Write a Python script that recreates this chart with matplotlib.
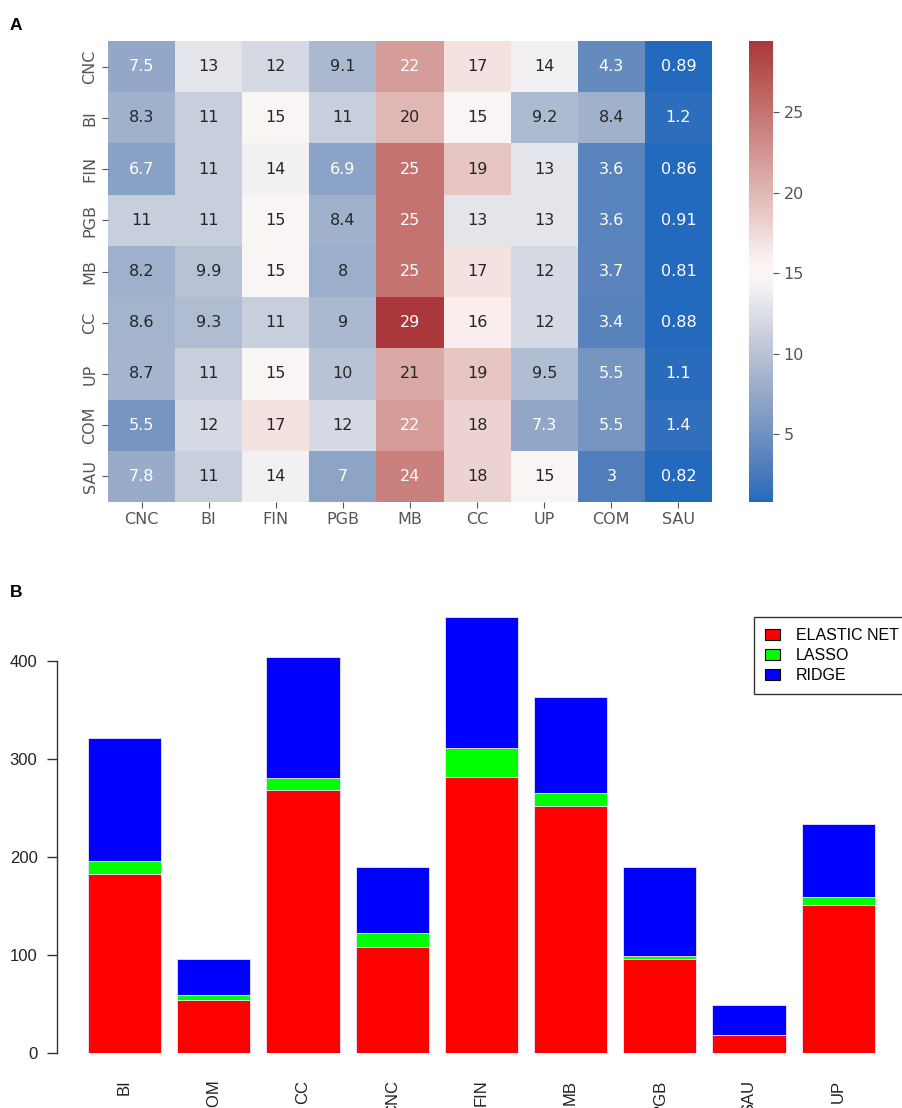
import matplotlib
matplotlib.use("Agg")
import matplotlib.pyplot as plt
import numpy as np
import seaborn as sns
from matplotlib.patches import Patch

# ---------------- data ----------------
heat_labels = ["CNC", "BI", "FIN", "PGB", "MB", "CC", "UP", "COM", "SAU"]
row_CNC = [7.5, 13, 12, 9.1, 22, 17, 14, 4.3, 0.89]
row_BI = [8.3, 11, 15, 11, 20, 15, 9.2, 8.4, 1.2]
row_FIN = [6.7, 11, 14, 6.9, 25, 19, 13, 3.6, 0.86]
row_PGB = [11, 11, 15, 8.4, 25, 13, 13, 3.6, 0.91]
row_MB = [8.2, 9.9, 15, 8, 25, 17, 12, 3.7, 0.81]
row_CC = [8.6, 9.3, 11, 9, 29.4, 16, 12, 3.4, 0.88]
row_UP = [8.7, 11, 15, 10, 21, 19, 9.5, 5.5, 1.1]
row_COM = [5.5, 12, 17, 12, 22, 18, 7.3, 5.5, 1.4]
row_SAU = [7.8, 11, 14, 7, 24, 18, 15, 3, 0.82]

bar_categories = ["BI", "COM", "CC", "CNC", "FIN", "MB", "PGB", "SAU", "UP"]
elastic_net = [183, 54, 268, 108, 281, 252, 96, 19, 151]
lasso = [13, 5, 12, 15, 30, 13, 3, 0, 8]
ridge = [125, 37, 124, 67, 133, 98, 91, 30, 75]

# ---------------- figure ----------------
W, H = 902, 1108
fig = plt.figure(figsize=(W / 100, H / 100), dpi=100)

def frac(x0, y0, x1, y1):
    return [x0 / W, 1 - y1 / H, (x1 - x0) / W, (y1 - y0) / H]

# ---- Panel A: heatmap ----
ax1 = fig.add_axes(frac(108, 41, 712, 502))
cax = fig.add_axes(frac(749, 41, 773, 502))
mat = np.array([row_CNC, row_BI, row_FIN, row_PGB, row_MB, row_CC,
                row_UP, row_COM, row_SAU])
sns.heatmap(mat, annot=False, cmap="vlag", ax=ax1, cbar_ax=cax,
            xticklabels=heat_labels, yticklabels=heat_labels)
for i in range(mat.shape[0]):
    for j in range(mat.shape[1]):
        v = mat[i, j]
        col = "white" if (v < 8 or v >= 21.5) else "#262626"
        ax1.text(j + 0.5, i + 0.5, format(v, ".2g"), ha="center",
                 va="center", color=col, fontsize=11.5)
tick_col = "#555555"
ax1.tick_params(axis="both", colors=tick_col, labelsize=11.5, length=4)
ax1.set_yticklabels(heat_labels, rotation=90, va="center", color=tick_col)
ax1.set_xticklabels(heat_labels, rotation=0, color=tick_col)
cax.tick_params(colors=tick_col, labelsize=11.5, length=4)
cax.set_yticks([5, 10, 15, 20, 25])

fig.text(10 / W, 1 - 25 / H, "A", fontsize=12.5, fontweight="bold",
         family="Liberation Sans", va="center", ha="left")

# ---- Panel B: stacked bars ----
ppu = 89.2
x_left = -0.41 - (88 - 57) / ppu
x_right = 8.41 + (88 - 57) / ppu
ax_px_right = 57 + (x_right - x_left) * ppu
ymax = 455
yscale = 0.9817
top_px = 1053.3 - ymax * yscale
ax2 = fig.add_axes(frac(57, top_px, ax_px_right, 1053.3))
x = np.arange(len(bar_categories))
bw = 0.82
ec = "#e8e8ff"
ax2.bar(x, elastic_net, bw, color="#ff0000", edgecolor=ec, linewidth=0.6)
ax2.bar(x, lasso, bw, bottom=elastic_net, color="#00ff00", edgecolor=ec,
        linewidth=0.6)
bottom2 = [a + b for a, b in zip(elastic_net, lasso)]
ax2.bar(x, ridge, bw, bottom=bottom2, color="#0000ff", edgecolor=ec,
        linewidth=0.6)
ax2.set_xlim(x_left, x_right)
ax2.set_ylim(0, ymax)
for s in ["top", "right", "bottom"]:
    ax2.spines[s].set_visible(False)
ax2.spines["left"].set_bounds(0, 400)
ax2.spines["left"].set_color("#333333")
ax2.spines["left"].set_linewidth(1.0)
ax2.set_yticks([0, 100, 200, 300, 400])
ax2.tick_params(axis="y", length=7, width=1.0, color="#333333", pad=7,
                labelsize=12, labelcolor="#222222")
ax2.set_xticks(x)
ax2.set_xticklabels(bar_categories, rotation=90, family="Liberation Sans",
                    fontsize=12, color="#222222")
ax2.tick_params(axis="x", length=0, pad=19)
for lab in ax2.get_yticklabels():
    lab.set_family("Liberation Sans")

handles = [Patch(facecolor="#ff0000", edgecolor="black", linewidth=0.8),
           Patch(facecolor="#00ff00", edgecolor="black", linewidth=0.8),
           Patch(facecolor="#0000ff", edgecolor="black", linewidth=0.8)]
leg = fig.legend(handles, ["ELASTIC NET", "LASSO", "RIDGE"],
                 loc="upper left", bbox_to_anchor=(754 / W, 1 - 617 / H),
                 bbox_transform=fig.transFigure, frameon=True, fancybox=False,
                 edgecolor="#333333", framealpha=1, borderaxespad=0,
                 prop={"family": "Liberation Sans", "size": 11.5},
                 handlelength=0.9, handleheight=0.7, handletextpad=1.0,
                 labelspacing=0.3, borderpad=0.7)
leg.get_frame().set_linewidth(1.0)

fig.text(10 / W, 1 - 593 / H, "B", fontsize=12.5, fontweight="bold",
         family="Liberation Sans", va="center", ha="left")

fig.savefig("out.png", dpi=100)
